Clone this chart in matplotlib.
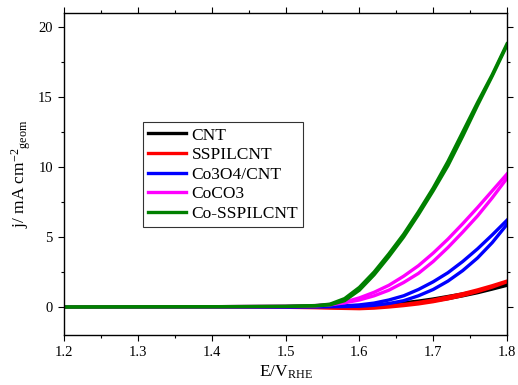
import numpy as np
import matplotlib
matplotlib.use("Agg")
import matplotlib.pyplot as plt
from matplotlib.ticker import MultipleLocator

plt.rcParams['font.family'] = ['Liberation Serif', 'DejaVu Serif']
plt.rcParams['mathtext.fontset'] = 'custom'
plt.rcParams['mathtext.rm'] = 'Liberation Serif'
plt.rcParams['mathtext.it'] = 'Liberation Serif:italic'

# potential (V vs RHE)
E = [1.20, 1.30, 1.40, 1.50, 1.54, 1.56, 1.58, 1.60, 1.62, 1.64,
     1.66, 1.68, 1.70, 1.72, 1.74, 1.76, 1.78, 1.80]

# current density, two sweep branches per sample (mA cm-2)
cnt_a = [0, 0, 0, 0.01, 0.02, 0.03, 0.04, 0.05, 0.12, 0.2, 0.3, 0.42, 0.57, 0.75, 0.93, 1.13, 1.35, 1.6]
cnt_b = [0, 0, 0, 0, 0.01, 0.01, 0.02, 0.02, 0.06, 0.12, 0.2, 0.3, 0.44, 0.6, 0.8, 1.02, 1.28, 1.55]
sspil_a = [0, 0, 0, 0, 0, -0.02, -0.04, -0.05, 0.0, 0.08, 0.18, 0.32, 0.5, 0.72, 0.95, 1.22, 1.52, 1.85]
sspil_b = [0, 0, -0.01, -0.02, -0.05, -0.08, -0.1, -0.12, -0.08, 0.0, 0.1, 0.22, 0.38, 0.58, 0.82, 1.1, 1.42, 1.8]
co3o4_a = [0, 0, 0.01, 0.02, 0.03, 0.05, 0.08, 0.15, 0.28, 0.5, 0.8, 1.25, 1.8, 2.45, 3.25, 4.15, 5.15, 6.2]
co3o4_b = [0, 0, 0, 0, 0.01, 0.02, 0.03, 0.05, 0.12, 0.25, 0.45, 0.8, 1.25, 1.85, 2.6, 3.5, 4.6, 5.9]
coco3_a = [0, 0.01, 0.02, 0.05, 0.1, 0.18, 0.35, 0.65, 1.05, 1.55, 2.2, 2.95, 3.85, 4.85, 5.95, 7.1, 8.3, 9.5]
coco3_b = [0, 0.01, 0.02, 0.04, 0.08, 0.15, 0.3, 0.5, 0.8, 1.2, 1.75, 2.4, 3.25, 4.25, 5.35, 6.5, 7.8, 9.2]
cosspil_a = [0, 0.01, 0.02, 0.05, 0.1, 0.2, 0.6, 1.4, 2.5, 3.8, 5.2, 6.8, 8.5, 10.4, 12.5, 14.6, 16.6, 18.8]
cosspil_b = [0, 0.01, 0.02, 0.04, 0.08, 0.15, 0.45, 1.2, 2.3, 3.6, 5.0, 6.6, 8.3, 10.1, 12.2, 14.4, 16.5, 18.7]

labels = ['CNT', 'SSPILCNT', 'Co3O4/CNT', 'CoCO3', 'Co-SSPILCNT']
colors = ['black', '#ff0000', '#0000ff', '#ff00ff', '#008000']
branches = [(cnt_a, cnt_b), (sspil_a, sspil_b), (co3o4_a, co3o4_b),
            (coco3_a, coco3_b), (cosspil_a, cosspil_b)]

fig = plt.figure(figsize=(5.18, 3.85), dpi=100)
ax = fig.add_axes([0.1236, 0.1299, 0.8552, 0.8363])

for lab, col, (a, b) in zip(labels, colors, branches):
    ax.plot(E, a, color=col, lw=2.4, label=lab)
    ax.plot(E, b, color=col, lw=2.4)

ax.set_xlim(1.2, 1.8)
ax.set_ylim(-2, 21)
ax.xaxis.set_major_locator(MultipleLocator(0.1))
ax.xaxis.set_minor_locator(MultipleLocator(0.05))
ax.yaxis.set_major_locator(MultipleLocator(5))
ax.yaxis.set_minor_locator(MultipleLocator(2.5))
ax.tick_params(which='both', direction='out', top=True, right=True,
               labeltop=False, labelright=False, labelsize=10.5, width=0.8)
ax.tick_params(which='major', length=4.5)
ax.tick_params(which='minor', length=2.5)
ax.xaxis.set_major_formatter(plt.FuncFormatter(lambda v, p: f'{v:g}'))
for s in ax.spines.values():
    s.set_linewidth(1.0)

ax.set_xlabel(r'E/V$_{\rm RHE}$', fontsize=12.5, labelpad=3)
ax.set_ylabel(r'j/ mA cm$^{-2}$$_{\rm geom}$', fontsize=12.5, labelpad=4)

leg = ax.legend(loc='upper left', bbox_to_anchor=(0.178, 0.661), fontsize=12.5,
                frameon=True, fancybox=False, edgecolor='black',
                handlelength=2.2, handletextpad=0.3, labelspacing=0.2,
                borderpad=0.3, borderaxespad=0)
leg.get_frame().set_linewidth(0.8)

fig.savefig('out.png', dpi=100)
